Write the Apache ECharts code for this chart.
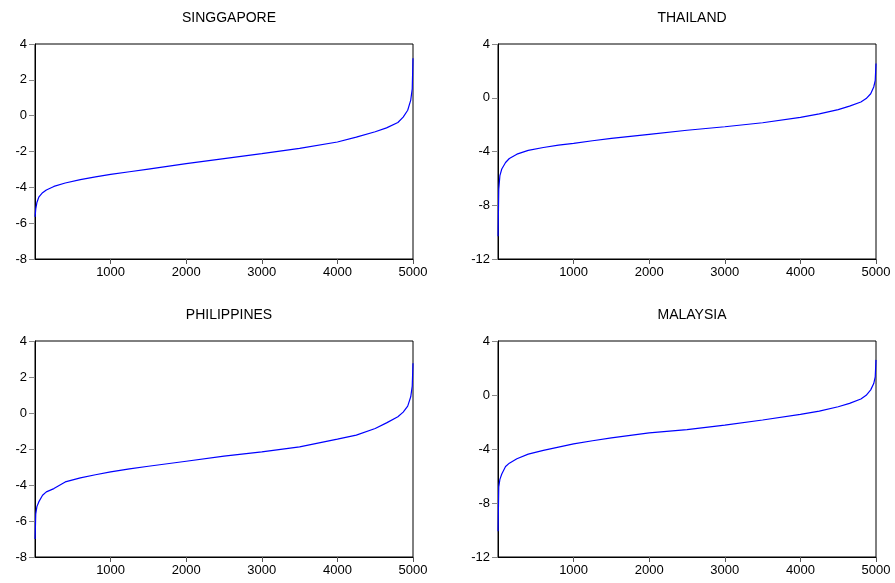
<!DOCTYPE html>
<html>
<head>
<meta charset="utf-8">
<script src="https://cdn.jsdelivr.net/npm/echarts@6/dist/echarts.min.js"></script>
<style>
  html, body { margin: 0; padding: 0; background: #fff; }
  #chart { width: 895px; height: 583px; }
</style>
</head>
<body>
<div id="chart"></div>
<script>
// observation index (sorted draws)
var obsIdx = [1, 10, 25, 50, 100, 150, 250, 400, 600, 800, 1000, 1250, 1500, 2000, 2500, 3000, 3500, 4000, 4250, 4500, 4650, 4800, 4870, 4930, 4970, 4990, 5000];

var titles = ['SINGGAPORE', 'THAILAND', 'PHILIPPINES', 'MALAYSIA'];
var xTickVals = [1000, 2000, 3000, 4000, 5000];

var singapore   = [-5.65, -5.2, -4.85, -4.55, -4.3, -4.15, -3.95, -3.76, -3.57, -3.42, -3.28, -3.13, -2.98, -2.68, -2.40, -2.12, -1.83, -1.47, -1.2, -0.9, -0.68, -0.38, -0.08, 0.30, 0.87, 1.5, 3.2];
var thailand    = [-10.3, -6.8, -5.8, -5.3, -4.82, -4.52, -4.2, -3.92, -3.7, -3.52, -3.4, -3.2, -3.03, -2.72, -2.42, -2.16, -1.86, -1.46, -1.2, -0.88, -0.62, -0.32, -0.06, 0.3, 0.8, 1.3, 2.55];
var philippines = [-7.0, -5.6, -5.2, -4.94, -4.57, -4.38, -4.2, -3.83, -3.6, -3.43, -3.27, -3.1, -2.96, -2.68, -2.4, -2.16, -1.88, -1.45, -1.23, -0.86, -0.55, -0.21, 0.05, 0.38, 0.9, 1.5, 2.76];
var malaysia    = [-10.1, -6.8, -6.25, -5.85, -5.3, -5.05, -4.72, -4.38, -4.1, -3.86, -3.62, -3.39, -3.17, -2.8, -2.56, -2.23, -1.85, -1.43, -1.19, -0.87, -0.62, -0.3, -0.02, 0.38, 0.85, 1.35, 2.6];

var seriesVals = [singapore, thailand, philippines, malaysia];
var yMins = [-8, -12, -8, -12];
var yIntervals = [2, 4, 2, 4];

var grids = [
  { left: 35,  top: 44,  width: 378, height: 215 },
  { left: 498, top: 44,  width: 378, height: 215 },
  { left: 35,  top: 341, width: 378, height: 216 },
  { left: 498, top: 341, width: 378, height: 216 }
];

var font = 'Liberation Sans, Arial, sans-serif';

var myChart = echarts.init(document.getElementById('chart'));

var option = {
  animation: false,
  backgroundColor: '#fff',
  title: [],
  grid: [],
  xAxis: [],
  yAxis: [],
  series: []
};

for (var i = 0; i < 4; i++) {
  var g = grids[i];
  option.grid.push({
    left: g.left, top: g.top, width: g.width, height: g.height,
    show: true, borderColor: '#000', borderWidth: 1, backgroundColor: 'transparent'
  });
  option.title.push({
    text: titles[i],
    left: g.left + g.width / 2,
    top: g.top - 38,
    textAlign: 'center',
    textStyle: { fontFamily: font, fontSize: 14, fontWeight: 'normal', color: '#000' }
  });
  option.xAxis.push({
    type: 'value', gridIndex: i, min: 0, max: 5000, interval: 1000,
    axisLine: { show: true, onZero: false, lineStyle: { color: '#000', width: 1 } },
    axisTick: { show: true, inside: false, length: 5, customValues: xTickVals, lineStyle: { color: '#555' } },
    splitLine: { show: false },
    axisLabel: {
      margin: 7, color: '#000', fontFamily: font, fontSize: 13,
      customValues: xTickVals,
      formatter: function (v) { return String(v); }
    }
  });
  option.yAxis.push({
    type: 'value', gridIndex: i, min: yMins[i], max: 4, interval: yIntervals[i],
    axisLine: { show: true, onZero: false, lineStyle: { color: '#000', width: 1 } },
    axisTick: { show: true, length: 6, lineStyle: { color: '#888' } },
    splitLine: { show: false },
    axisLabel: { margin: 8, color: '#000', fontFamily: font, fontSize: 13 }
  });
  var vals = seriesVals[i];
  option.series.push({
    type: 'line', xAxisIndex: i, yAxisIndex: i,
    data: obsIdx.map(function (x, k) { return [x, vals[k]]; }),
    showSymbol: false, smooth: false,
    lineStyle: { color: '#0000ff', width: 1.2 }
  });
}

myChart.setOption(option);
</script>
</body>
</html>
